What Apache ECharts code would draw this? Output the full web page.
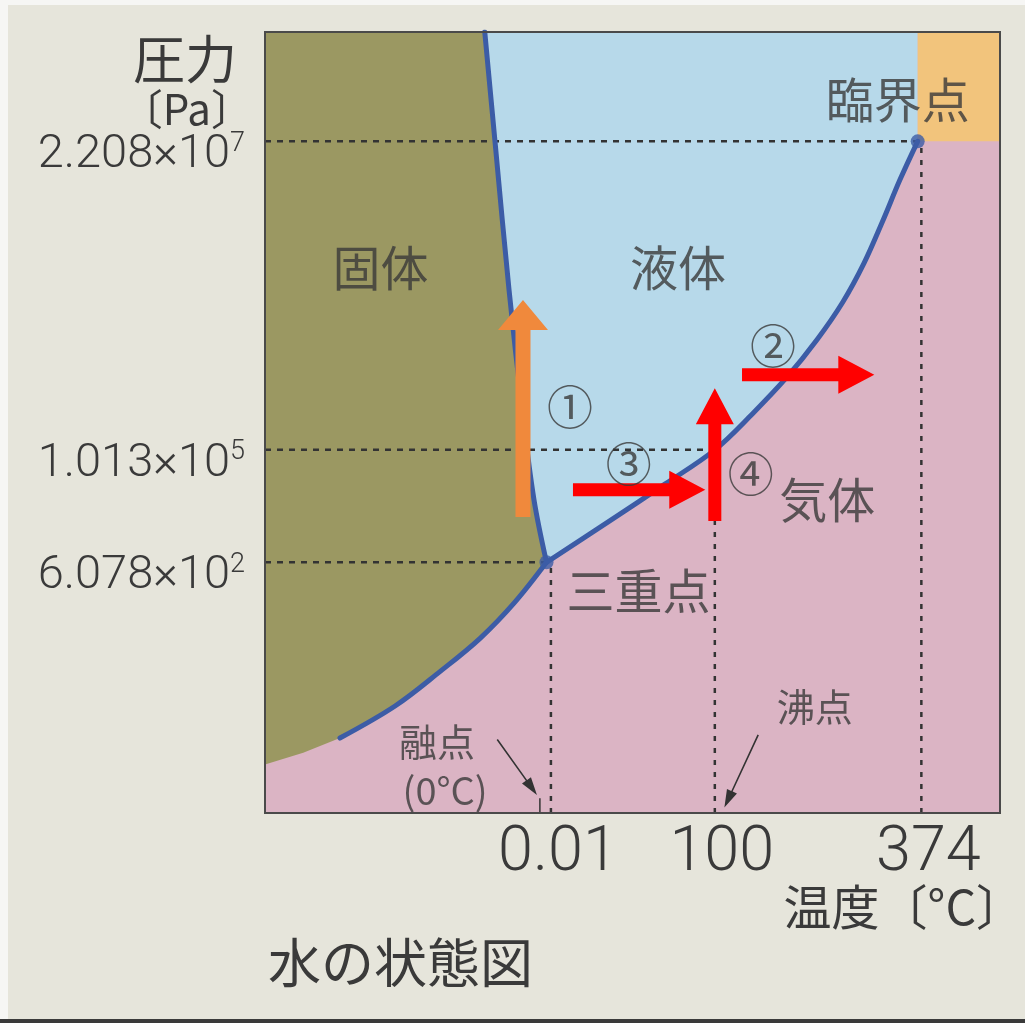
<!DOCTYPE html>
<html><head><meta charset="utf-8">
<script src="https://cdn.jsdelivr.net/npm/echarts@6/dist/echarts.min.js"></script>
<style>html,body{margin:0;padding:0;background:#fff}#c{width:1025px;height:1023px}</style>
</head><body><div id="c"></div>
<script>
// ---- data (schematic coordinates: x = temperature axis 0..100, y = pressure axis 0..100) ----
const xTickValues = [38.9, 61.2, 89.3];
const xTickLabels = ['0.01', '100', '374'];
const yTickValues = [86.0, 46.5, 32.1];
const yTickMantissa = ['2.208', '1.013', '6.078'];
const yTickExponent = ['7', '5', '2'];

const triplePoint = [38.3, 32.1];
const criticalPoint = [88.8, 86.0];

const meltingCurve = [[29.9, 100], [31.4, 84.9], [33.2, 67.0], [35.0, 51.6], [36.6, 40.1], [38.3, 32.1]];
const vaporCurve = [[38.3, 32.1], [46.9, 37.4], [54.4, 42.1], [61.2, 46.5], [66.3, 51.1], [71.0, 55.8],
  [75.1, 60.6], [78.6, 65.4], [81.5, 70.4], [84.0, 75.7], [86.4, 81.1], [88.8, 86.0]];
const sublimationCurve = [[38.3, 32.1], [34.0, 27.0], [29.3, 22.4], [23.8, 18.1], [17.7, 13.7], [10.2, 9.6]];
const solidGasEdge = [[10.2, 9.6], [5.2, 7.7], [0, 6.2]];

const orangeArrows = [[35.1, 37.9, 35.1, 65.7]];
const redArrows = [[64.9, 56.1, 82.9, 56.1], [41.9, 41.4, 59.9, 41.4], [61.2, 37.4, 61.2, 54.4]];
const pointerArrows = [[31.6, 9.4, 37.0, 2.3], [67.1, 10.0, 62.5, 0.7]];

const guideH = [[0, 86.0, 88.8, 86.0], [0, 46.5, 61.2, 46.5], [0, 32.1, 38.3, 32.1]];
const guideV = [[38.9, 0, 38.9, 32.1], [61.2, 0, 61.2, 37.4], [89.3, 0, 89.3, 86.0]];
const meltTick = [[37.4, 0], [37.4, 1.9]];

const phaseLabels = [['固体', 15.7, 69.8], ['液体', 56.2, 69.8], ['気体', 76.5, 40.1]];
const pointLabels = [['三重点', 50.8, 28.5], ['臨界点', 86.1, 91.3]];
const noteLabels = [['融点', 23.4, 9.1], ['(0°C)', 24.5, 2.9], ['沸点', 74.8, 13.6]];
const stepLabels = [['①', 41.5, 52.0], ['②', 69.1, 59.9], ['③', 49.5, 44.8], ['④', 66.1, 43.5]];

// ---- derived polygons ----
const solidPoly = [[0, 100]].concat(meltingCurve, sublimationCurve.slice(1), solidGasEdge.slice(1));
const liquidPoly = meltingCurve.concat(vaporCurve.slice(1), [[criticalPoint[0], 100]]);
const superPoly = [[criticalPoint[0], 100], [100, 100], [100, criticalPoint[1]], criticalPoint];

const CJK = '"Noto Sans CJK JP", sans-serif';
const NUM = 'Roboto, "Liberation Sans", sans-serif';
const TXT = '#3a3a3a';

function polySeries(points, color, z) {
  return {
    type: 'custom', coordinateSystem: 'cartesian2d', silent: true, z: z, data: [[0, 0]],
    renderItem: (params, api) => ({
      type: 'polygon', shape: { points: points.map(p => api.coord(p)) }, style: { fill: color }
    })
  };
}
function arrowPoints(p1, p2, shaft, headLen, headW) {
  const dx = p2[0] - p1[0], dy = p2[1] - p1[1], L = Math.hypot(dx, dy);
  const ux = dx / L, uy = dy / L, nx = -uy, ny = ux;
  const bx = p2[0] - ux * headLen, by = p2[1] - uy * headLen, s = shaft / 2, h = headW / 2;
  return [[p1[0] + nx * s, p1[1] + ny * s], [bx + nx * s, by + ny * s], [bx + nx * h, by + ny * h], [p2[0], p2[1]],
    [bx - nx * h, by - ny * h], [bx - nx * s, by - ny * s], [p1[0] - nx * s, p1[1] - ny * s]];
}
function arrowSeries(list, color, shaft, headLen, headW, z) {
  return {
    type: 'custom', coordinateSystem: 'cartesian2d', silent: true, z: z, data: list,
    encode: { x: [0, 2], y: [1, 3] },
    renderItem: (params, api) => {
      const p1 = api.coord([api.value(0), api.value(1)]);
      const p2 = api.coord([api.value(2), api.value(3)]);
      return { type: 'polygon', shape: { points: arrowPoints(p1, p2, shaft, headLen, headW) }, style: { fill: color } };
    }
  };
}
function segSeries(seg, style, z) {
  return {
    type: 'line', silent: true, z: z, symbol: 'none',
    data: [[seg[0], seg[1]], [seg[2], seg[3]]], lineStyle: style
  };
}
function curveSeries(pts) {
  return {
    type: 'line', silent: true, z: 5, symbol: 'none', data: pts, smooth: 0.35,
    lineStyle: { color: '#3c5ca6', width: 5, cap: 'round', join: 'round' }
  };
}
function labelSeries(list, size, z) {
  return {
    type: 'scatter', silent: true, z: z, symbolSize: 0,
    data: list.map(l => ({ value: [l[1], l[2]], name: l[0] })),
    label: { show: true, position: 'inside', formatter: '{b}', fontFamily: CJK, fontSize: size, color: TXT }
  };
}
function nearestIndex(arr, v) {
  let bi = 0; arr.forEach((a, i) => { if (Math.abs(a - v) < Math.abs(arr[bi] - v)) bi = i; }); return bi;
}

const chart = echarts.init(document.getElementById('c'));
chart.setOption({
  animation: false,
  backgroundColor: '#e6e5db',
  title: {
    text: '水の状態図', left: 268, top: 936, padding: 0,
    textStyle: { fontFamily: CJK, fontSize: 53, fontWeight: 'normal', color: TXT }
  },
  graphic: [
    { type: 'rect', shape: { x: 0, y: 0, width: 8, height: 1023 }, style: { fill: '#f6f6f4' } },
    { type: 'rect', shape: { x: 0, y: 0, width: 1025, height: 5 }, style: { fill: '#f6f6f4' } },
    { type: 'rect', shape: { x: 0, y: 1019, width: 1025, height: 4 }, style: { fill: '#3a3a3a' } }
  ],
  grid: { left: 265, top: 32, width: 735, height: 781, show: true, backgroundColor: '#dbb4c4',
    borderWidth: 0, containLabel: false, outerBoundsMode: 'none' },
  xAxis: {
    type: 'value', min: 0, max: 100,
    name: '温度〔°C〕', nameLocation: 'end', nameGap: 24, nameMoveOverlap: false,
    nameTextStyle: { fontFamily: CJK, fontSize: 48, color: TXT, align: 'right', verticalAlign: 'top', padding: [70, 0, 0, 0] },
    axisLine: { show: false }, axisTick: { show: false }, splitLine: { show: false },
    axisLabel: {
      customValues: xTickValues, margin: 10, padding: [0, 0, 0, 14], fontFamily: NUM, fontWeight: 300, fontSize: 63, color: TXT,
      formatter: v => xTickLabels[nearestIndex(xTickValues, v)]
    }
  },
  yAxis: {
    type: 'value', min: 0, max: 100,
    name: '{a|圧力}\n{b|〔Pa〕}', nameLocation: 'end', nameGap: 0, nameMoveOverlap: false,
    nameTextStyle: {
      align: 'right', verticalAlign: 'top', padding: [0, 12, 0, 0],
      rich: {
        a: { fontFamily: CJK, fontSize: 52, lineHeight: 54, color: TXT, align: 'right', padding: [0, 16, 0, 0] },
        b: { fontFamily: CJK, fontSize: 42, lineHeight: 46, color: TXT, align: 'right' }
      }
    },
    axisLine: { show: false }, axisTick: { show: false }, splitLine: { show: false },
    axisLabel: {
      customValues: yTickValues, margin: 20, padding: [28, 0, 0, 0],
      formatter: v => { const i = nearestIndex(yTickValues, v); return '{m|' + yTickMantissa[i] + '×10}{e|' + yTickExponent[i] + '}'; },
      rich: {
        m: { fontFamily: NUM, fontWeight: 300, fontSize: 47, color: TXT, lineHeight: 50 },
        e: { fontFamily: NUM, fontWeight: 300, fontSize: 27, color: TXT, verticalAlign: 'top', lineHeight: 50 }
      }
    }
  },
  series: [
    polySeries(solidPoly, '#9b9862', 1),
    polySeries(liquidPoly, '#b7d9ea', 1),
    polySeries(superPoly, '#f2c47c', 1),
    ...guideH.map(g => segSeries(g, { color: '#333', width: 2.5, type: [6, 6] }, 2)),
    ...guideV.map(g => segSeries(g, { color: '#333', width: 2.5, type: [5, 7] }, 2)),
    segSeries(meltTick[0].concat(meltTick[1]), { color: '#333', width: 1.5 }, 2),
    curveSeries(meltingCurve),
    curveSeries(vaporCurve),
    curveSeries(sublimationCurve),
    {
      type: 'scatter', silent: true, z: 6, symbolSize: 14, data: [triplePoint, criticalPoint],
      itemStyle: { color: '#3c5ca6' }
    },
    arrowSeries(orangeArrows, '#f0893c', 15, 30, 50, 7),
    arrowSeries(redArrows, '#ff0000', 13, 36, 38, 7),
    arrowSeries(pointerArrows, '#333333', 1.6, 18, 11, 7),
    labelSeries(phaseLabels, 48, 8),
    labelSeries(pointLabels, 48, 8),
    labelSeries(noteLabels, 38, 8),
    labelSeries(stepLabels, 46, 8),
    {
      type: 'custom', coordinateSystem: 'cartesian2d', silent: true, z: 9, data: [[0, 0]],
      renderItem: (params, api) => {
        const a = api.coord([0, 100]), b = api.coord([100, 0]);
        return { type: 'rect', shape: { x: a[0], y: a[1], width: b[0] - a[0], height: b[1] - a[1] },
          style: { fill: 'none', stroke: '#4a4a4a', lineWidth: 2 } };
      }
    }
  ]
});
</script>
</body></html>
